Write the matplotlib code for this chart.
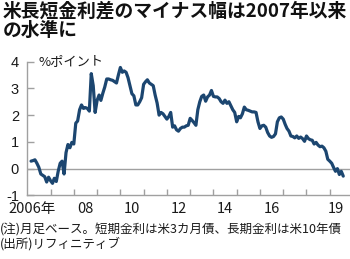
import matplotlib
matplotlib.use("Agg")
import matplotlib.pyplot as plt
import pandas as pd
import datetime as dt

plt.rcParams['font.family'] = ['Noto Sans CJK JP', 'DejaVu Sans']

# Data: US 10y - 3m spread, monthly, starting March 2006 (%pt)
start_month = "2006-03"
spread = [
    0.28, 0.30, 0.33, 0.20, 0.05, -0.20, -0.25, -0.30, -0.50, -0.32,
    -0.45, -0.55, -0.36, -0.48, -0.10, 0.20, 0.28, -0.20, 0.60, 0.90,
    0.78, 0.98, 0.92, 1.70, 1.78, 2.20, 2.38, 2.25, 2.28, 2.25,
    2.15, 3.55, 3.10, 2.10, 2.55, 2.75, 2.55, 2.82, 3.05, 3.35,
    3.35, 3.32, 3.30, 3.25, 3.20, 3.50, 3.78, 3.60, 3.65, 3.60,
    3.40, 3.10, 2.80, 2.72, 2.38, 2.38, 2.50, 2.65, 3.15, 3.25,
    3.32, 3.20, 3.15, 3.10, 2.75, 2.45, 2.00, 2.10, 2.05, 1.95,
    1.85, 1.95, 2.10, 1.55, 1.60, 1.45, 1.40, 1.50, 1.55, 1.55,
    1.60, 1.62, 1.88, 1.80, 1.72, 1.62, 2.20, 2.50, 2.70, 2.75,
    2.52, 2.68, 2.75, 2.92, 2.70, 2.68, 2.68, 2.62, 2.50, 2.44,
    2.56, 2.44, 2.50, 2.35, 2.20, 2.10, 1.75, 1.95, 1.90, 2.05,
    2.30, 2.20, 2.18, 2.15, 2.12, 2.12, 2.10, 1.75, 1.50, 1.60,
    1.62, 1.55, 1.35, 1.22, 1.17, 1.20, 1.30, 1.75, 1.90, 1.93,
    1.85, 1.65, 1.50, 1.40, 1.22, 1.20, 1.15, 1.22, 1.13, 1.18,
    1.12, 1.02, 1.22, 1.12, 1.08, 1.06, 0.92, 0.98, 0.88, 0.82,
    0.84, 0.78, 0.65, 0.35, 0.28, 0.20, 0.05, -0.10, 0.00, -0.22,
    -0.10, -0.28,
]
y_ticks = [-1, 0, 1, 2, 3, 4]
tick_years = list(range(2007, 2020))
x_labels = ["2006年", "08", "10", "12", "14", "16", "19"]
x_label_dates = ["2006-03-20", "2008-07-01", "2010-07-01", "2012-07-01",
                 "2014-07-01", "2016-07-01", "2019-04-15"]

title_lines = ["米長短金利差のマイナス幅は2007年以来", "の水準に"]
unit_label = "%ポイント"
notes = ["(注)月足ベース。短期金利は米3カ月債、長期金利は米10年債",
         "(出所)リフィニティブ"]

dates = pd.date_range(start_month, periods=len(spread), freq="MS")

fig = plt.figure(figsize=(3.5, 2.59), dpi=100)
ax = fig.add_axes([0.078, 0.2456, 0.922, 0.5166])

line_color = "#1c4670"
grey = "#a0a0a0"
txt = "#1a1a1a"

ax.axhline(0, color=grey, lw=1.0, zorder=1)
ax.plot(dates, spread, color=line_color, lw=2.3, solid_joinstyle="round",
        solid_capstyle="round", zorder=3)

ax.set_ylim(-1, 4)
ax.set_xlim(dt.datetime(2006, 1, 1), dt.datetime(2019, 11, 15))

for s in ["top", "right"]:
    ax.spines[s].set_visible(False)
for s in ["left", "bottom"]:
    ax.spines[s].set_color(grey)
    ax.spines[s].set_linewidth(1.0)

ax.set_yticks(y_ticks)
ax.set_yticklabels([str(v) for v in y_ticks],
                   family=['Liberation Sans', 'DejaVu Sans'])
ax.tick_params(axis="y", direction="in", length=5, width=1, color=grey,
               labelsize=10.5, pad=6, labelcolor=txt)

ax.set_xticks([dt.datetime(y, 1, 1) for y in tick_years])
ax.set_xticklabels([])
ax.tick_params(axis="x", which="major", direction="in", length=4, width=1,
               color=grey)
ax.set_xticks([pd.Timestamp(d) for d in x_label_dates], minor=True)
ax.set_xticklabels(x_labels, minor=True)
ax.tick_params(axis="x", which="minor", length=0, labelsize=10.5, pad=5,
               labelcolor=txt)

fig.text(0.008, 0.995, title_lines[0], fontsize=13.5, fontweight="bold",
         va="top", ha="left", color="#111111")
fig.text(0.008, 0.92, title_lines[1], fontsize=13.5, fontweight="bold",
         va="top", ha="left", color="#111111")

ax.text(0.035, 4.0, unit_label, transform=ax.get_yaxis_transform(),
        fontsize=9.5, va="center", ha="left", color=txt)

fig.text(0.0, 0.113, notes[0], fontsize=9, va="center", ha="left",
         color=txt)
fig.text(0.0, 0.058, notes[1], fontsize=9, va="center", ha="left",
         color=txt)

fig.savefig("out.png", dpi=100)
